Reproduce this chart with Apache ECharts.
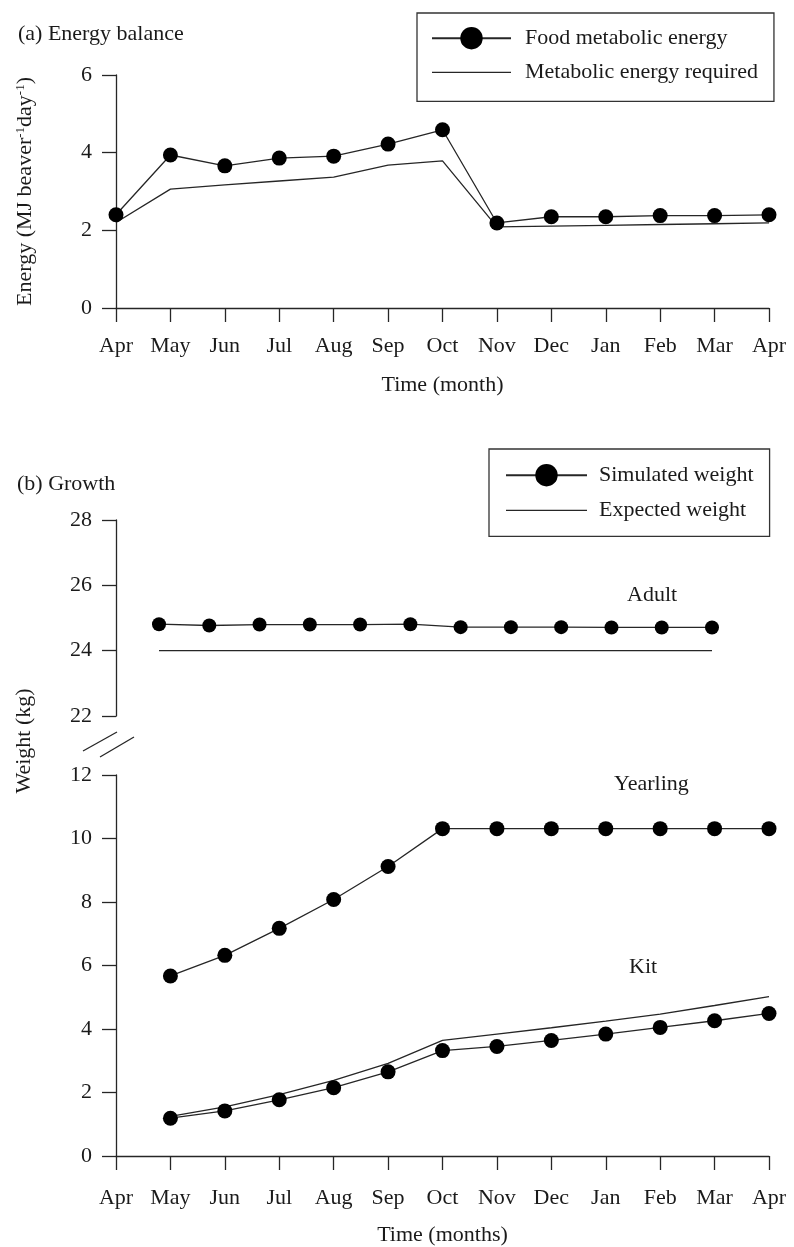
<!DOCTYPE html>
<html>
<head>
<meta charset="utf-8">
<script src="https://cdn.jsdelivr.net/npm/echarts@6/dist/echarts.min.js"></script>
<style>
  html, body { margin: 0; padding: 0; background: #fff; }
  #main { width: 794px; height: 1247px; }
</style>
</head>
<body>
<div id="main"></div>
<script>
// (a) energy balance
const months = ['Apr', 'May', 'Jun', 'Jul', 'Aug', 'Sep', 'Oct', 'Nov', 'Dec', 'Jan', 'Feb', 'Mar', 'Apr']
const foodEnergy = [2.4, 3.94, 3.66, 3.86, 3.91, 4.22, 4.59, 2.19, 2.35, 2.35, 2.38, 2.38, 2.4]
const requiredEnergy = [2.2, 3.06, 3.17, 3.27, 3.37, 3.68, 3.79, 2.09, 2.11, 2.13, 2.15, 2.17, 2.19]

// (b) growth
const adultMonths = ['May', 'Jun', 'Jul', 'Aug', 'Sep', 'Oct', 'Nov', 'Dec', 'Jan', 'Feb', 'Mar', 'Apr']
const adultSimulated = [24.81, 24.77, 24.8, 24.8, 24.8, 24.81, 24.72, 24.72, 24.72, 24.71, 24.71, 24.71]
const adultExpected = [24, 24, 24, 24, 24, 24, 24, 24, 24, 24, 24, 24]
const yearlingSimulated = [null, 5.67, 6.32, 7.17, 8.08, 9.12, 10.31, 10.31, 10.31, 10.31, 10.31, 10.31, 10.31]
const kitSimulated = [null, 1.19, 1.42, 1.77, 2.15, 2.65, 3.32, 3.45, 3.64, 3.84, 4.05, 4.26, 4.49]
const kitExpected = [null, 1.25, 1.55, 1.93, 2.38, 2.92, 3.64, 3.84, 4.04, 4.25, 4.47, 4.74, 5.02]

const energyTicks = [0, 6, 2]
const adultTicks = [22, 28, 2]
const lowerTicks = [0, 12, 2]

const font = 'Liberation Serif'
const fs = 22
const ink = '#1a1a1a'
const lineColor = '#262626'

const axisCommon = {
  axisLine: { lineStyle: { color: lineColor, width: 1.3 } },
  axisTick: { length: 14, lineStyle: { color: lineColor, width: 1.3 } },
  splitLine: { show: false }
}

function xCat(gridIndex, data, margin, name, gap, show) {
  return Object.assign({}, axisCommon, {
    type: 'category',
    gridIndex: gridIndex,
    data: data,
    show: show,
    boundaryGap: false,
    axisTick: { alignWithLabel: true, length: 14, lineStyle: { color: lineColor, width: 1.3 } },
    axisLabel: { interval: 0, margin: margin, fontSize: fs, fontFamily: font, color: ink },
    name: name,
    nameLocation: 'middle',
    nameGap: gap,
    nameTextStyle: { fontSize: fs, fontFamily: font, color: ink }
  })
}

function yVal(gridIndex, ticks, extra) {
  return Object.assign({}, axisCommon, {
    type: 'value',
    gridIndex: gridIndex,
    min: ticks[0],
    max: ticks[1],
    interval: ticks[2],
    axisLine: { show: true, lineStyle: { color: lineColor, width: 1.3 } },
    axisTick: { show: true, length: 14, lineStyle: { color: lineColor, width: 1.3 } },
    axisLabel: { margin: 24, fontSize: fs, fontFamily: font, color: ink }
  }, extra || {})
}

function markerLine(name, data, xi, yi, size) {
  return {
    name: name,
    type: 'line',
    xAxisIndex: xi,
    yAxisIndex: yi,
    data: data,
    symbol: 'circle',
    symbolSize: size,
    color: '#000',
    lineStyle: { color: lineColor, width: 1.3 },
    itemStyle: { color: '#000' },
    connectNulls: false,
    animation: false,
    z: 3
  }
}

function plainLine(name, data, xi, yi) {
  return {
    name: name,
    type: 'line',
    xAxisIndex: xi,
    yAxisIndex: yi,
    data: data,
    symbol: 'none',
    color: lineColor,
    lineStyle: { color: lineColor, width: 1.3 },
    animation: false,
    z: 2
  }
}

const thinIcon = 'path://M0,0H80V1.3H0Z'

const chart = echarts.init(document.getElementById('main'))
chart.setOption({
  backgroundColor: '#fff',
  animation: false,
  title: [
    { text: '(a) Energy balance', left: 18, top: 23, padding: 0,
      textStyle: { fontSize: fs, fontWeight: 'normal', fontFamily: font, color: ink } },
    { text: '(b) Growth', left: 17, top: 473, padding: 0,
      textStyle: { fontSize: fs, fontWeight: 'normal', fontFamily: font, color: ink } }
  ],
  legend: [
    {
      orient: 'vertical', left: 417, top: 13, padding: [14, 16, 18, 14], itemGap: 12,
      itemWidth: 79, itemHeight: 28,
      borderColor: '#333', borderWidth: 1.3,
      textStyle: { fontSize: fs, fontFamily: font, color: ink, padding: [0, 0, 0, 9] },
      data: ['Food metabolic energy', { name: 'Metabolic energy required', icon: thinIcon }]
    },
    {
      orient: 'vertical', left: 489, top: 449, padding: [15, 16, 15, 16], itemGap: 13,
      itemWidth: 81, itemHeight: 28,
      borderColor: '#333', borderWidth: 1.3,
      textStyle: { fontSize: fs, fontFamily: font, color: ink, padding: [0, 0, 0, 7] },
      data: ['Simulated weight', { name: 'Expected weight', icon: thinIcon }]
    }
  ],
  grid: [
    { left: 116, right: 25, top: 75, height: 233 },
    { left: 159, right: 82, top: 520, height: 196 },
    { left: 116, right: 25, top: 775, height: 385 }
  ],
  xAxis: [
    xCat(0, months, 27, 'Time (month)', 66, true),
    xCat(1, adultMonths, 25, '', 60, false),
    xCat(2, months, 31, 'Time (months)', 68, true)
  ],
  yAxis: [
    yVal(0, energyTicks, {
      name: 'Energy (MJ beaver{s|-1}day{s|-1})',
      nameLocation: 'middle',
      nameGap: 79,
      nameTextStyle: {
        fontSize: fs, fontFamily: font, color: ink,
        rich: { s: { fontSize: 13, fontFamily: font, color: ink, padding: [0, 0, 10, 0] } }
      }
    }),
    yVal(1, adultTicks, { offset: 43 }),
    yVal(2, lowerTicks)
  ],
  series: [
    plainLine('Metabolic energy required', requiredEnergy, 0, 0),
    markerLine('Food metabolic energy', foodEnergy, 0, 0, 15),
    plainLine('Expected weight', adultExpected, 1, 1),
    markerLine('Simulated weight', adultSimulated, 1, 1, 14),
    plainLine('Expected weight', kitExpected, 2, 2),
    markerLine('Simulated weight', yearlingSimulated, 2, 2, 15),
    markerLine('Simulated weight', kitSimulated, 2, 2, 15)
  ],
  graphic: [
    { type: 'text', left: 627, top: 584, style: { text: 'Adult', fontSize: fs, fontFamily: font, fill: ink } },
    { type: 'text', left: 614, top: 773, style: { text: 'Yearling', fontSize: fs, fontFamily: font, fill: ink } },
    { type: 'text', left: 629, top: 956, style: { text: 'Kit', fontSize: fs, fontFamily: font, fill: ink } },
    {
      type: 'text', x: 24, y: 741, rotation: Math.PI / 2,
      style: { text: 'Weight (kg)', fontSize: fs, fontFamily: font, fill: ink, align: 'center', verticalAlign: 'middle' }
    },
    { type: 'line', shape: { x1: 83, y1: 751, x2: 117, y2: 732 }, style: { stroke: lineColor, lineWidth: 1.3 } },
    { type: 'line', shape: { x1: 100, y1: 757, x2: 134, y2: 737 }, style: { stroke: lineColor, lineWidth: 1.3 } }
  ]
})
</script>
</body>
</html>
